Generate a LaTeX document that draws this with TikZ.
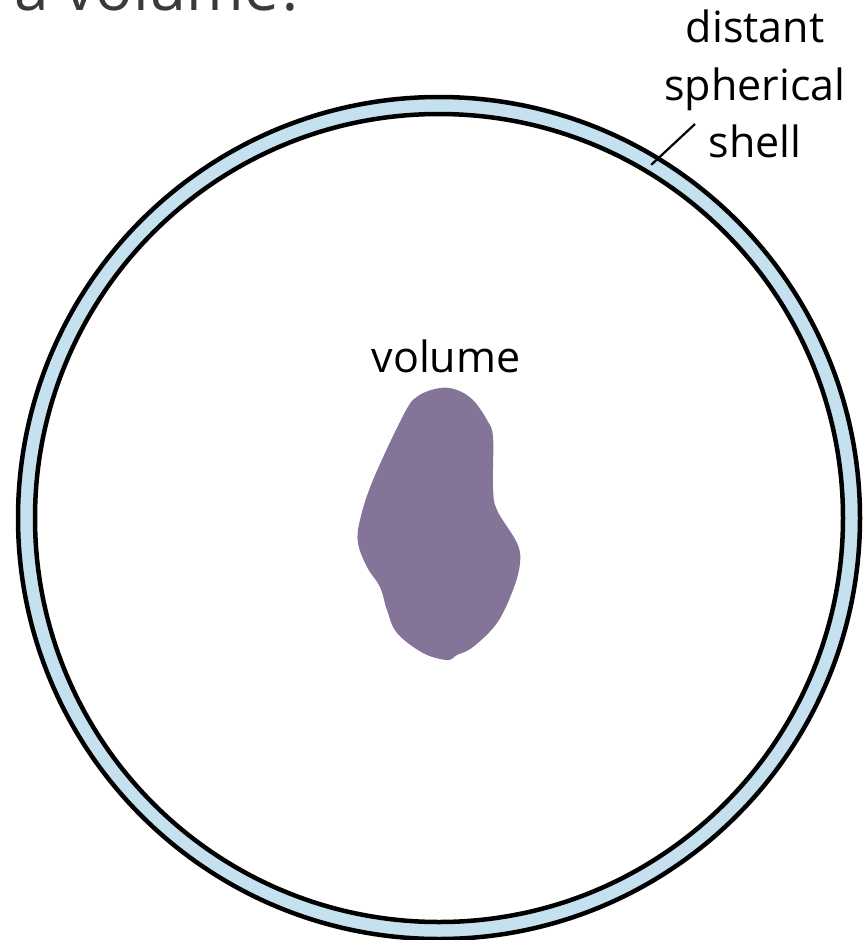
\documentclass[tikz,border=0pt]{standalone}
\usepackage{fontspec}
\setmainfont{Open Sans}
\usetikzlibrary{calc}
\definecolor{ringblue}{HTML}{C5E0EF}
\definecolor{blobpurple}{HTML}{847497}
\definecolor{titlegray}{HTML}{3A3A3A}
\begin{document}
\begin{tikzpicture}[x=1pt,y=-1pt,
  lbl/.style={font=\fontsize{43}{50}\selectfont, anchor=base, inner sep=0pt},
  ringline/.style={line width=4.5pt, draw=black}]
\useasboundingbox (0,0) rectangle (865,940);
\coordinate (c) at (439,518);
% title (cut off at top, as in the reference)
\node[font=\fontsize{62}{70}\selectfont, text=titlegray, anchor=base west, inner sep=0pt] (title) at (14,10) {a volume?};
% shell
\path[fill=ringblue, even odd rule] (c) circle (421) (c) circle (404);
\draw[ringline] (c) circle (421);
\draw[ringline] (c) circle (404);
% blob
\fill[blobpurple] plot[smooth cycle, tension=0.6] coordinates {
 (440,388) (418,396) (404,414) (373,480) (360,520) (358,543) (367,567)
 (380,587) (387,610) (397,633) (423,653) (447,660) (457,655) (473,647)
 (497,623) (513,590) (520,563) (517,543) (497,510) (493,487) (493,437)
 (487,420) (473,400) (457,390)};
% labels
\node[lbl] (vol) at (446,372) {volume};
\node[lbl] (d1) at (755,42) {distant};
\node[lbl] (d2) at (755,100) {spherical};
\node[lbl] (d3) at (755,157) {shell};
\coordinate (shellpt) at ($(c)+(-59:412)$);
\coordinate (leadend) at (695,124);
\draw[line width=2.2pt] (shellpt) -- (leadend);
\end{tikzpicture}
\end{document}
